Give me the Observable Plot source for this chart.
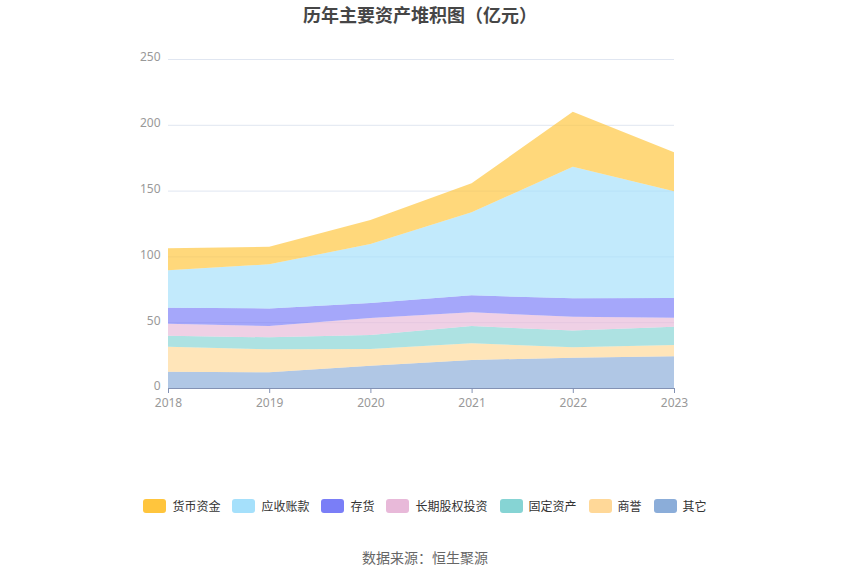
<!DOCTYPE html>
<html>
<head>
<meta charset="utf-8">
<script src="https://cdn.jsdelivr.net/npm/d3@7"></script>
<script src="https://cdn.jsdelivr.net/npm/@observablehq/plot@0.6"></script>
<style>
  body { margin: 0; background: #fff; font-family: "Noto Sans CJK SC", "Noto Sans", sans-serif; }
  #wrap { position: relative; width: 850px; height: 574px; }
  #title { position: absolute; top: 1px; left: 0; width: 840px; text-align: center; font-size: 18px; font-weight: bold; color: #464646; }
  #chart { position: absolute; top: 0; left: 0; }
  #legend { position: absolute; top: 497px; left: 0; width: 850px; display: flex; justify-content: center; font-size: 12px; color: #333; }
  .item { display: flex; align-items: center; margin: 0 6px; }
  .sw { width: 23px; height: 14px; border-radius: 3px; margin-right: 6px; }
  #caption { position: absolute; top: 547px; left: 0; width: 850px; text-align: center; font-size: 14px; color: #666; }
</style>
</head>
<body>
<div id="wrap">
  <div id="chart"></div>
  <div id="title">历年主要资产堆积图（亿元）</div>
  <div id="legend"></div>
  <div id="caption">数据来源：恒生聚源</div>
</div>
<script>
const years = [2018, 2019, 2020, 2021, 2022, 2023];
// legend order (top of stack first)
const seriesNames = ["货币资金", "应收账款", "存货", "长期股权投资", "固定资产", "商誉", "其它"];
const seriesColors = ["#ffc53d", "#a5e0fb", "#7a7ef7", "#e8b9d9", "#86d4d4", "#ffd898", "#8badd9"];
const cash        = [16.7, 13.4, 18.3, 22.0, 41.8, 29.6];
const receivables = [28.4, 33.5, 44.8, 63.1, 100.0, 81.1];
const inventory   = [12.1, 13.4, 11.4, 12.9, 14.0, 15.0];
const ltEquity    = [9.2, 8.6, 12.9, 10.4, 10.6, 6.8];
const fixedAssets = [8.3, 9.1, 10.7, 13.1, 12.7, 13.9];
const goodwill    = [19.0, 17.5, 12.6, 12.7, 7.9, 8.6];
const other       = [12.4, 11.9, 17.0, 21.3, 23.0, 24.1];
const yTicks = [0, 50, 100, 150, 200, 250];

const valuesBySeries = {
  "货币资金": cash, "应收账款": receivables, "存货": inventory,
  "长期股权投资": ltEquity, "固定资产": fixedAssets, "商誉": goodwill, "其它": other
};
// stack from bottom: 其它 first
const stackOrder = seriesNames.slice().reverse();
const data = [];
for (const s of stackOrder) {
  years.forEach((y, i) => data.push({ year: y, series: s, value: valuesBySeries[s][i] }));
}

const chart = Plot.plot({
  width: 850,
  height: 420,
  marginLeft: 168,
  marginRight: 176,
  marginTop: 59,
  marginBottom: 32,
  style: { fontFamily: "'Noto Sans', sans-serif", fontSize: "12px", color: "#999", background: "transparent" },
  x: { type: "linear", domain: [2018, 2023], label: null },
  y: { domain: [0, 250], label: null },
  color: { domain: seriesNames, range: seriesColors },
  marks: [
    Plot.gridY(yTicks, { stroke: "#e0e6f1", strokeOpacity: 1 }),
    Plot.areaY(data, { x: "year", y: "value", z: "series", fill: "series", fillOpacity: 0.68, order: stackOrder }),
    Plot.ruleY([0], { stroke: "#8392b4", strokeWidth: 1 }),
    Plot.axisX({ ticks: years, tickFormat: d => String(d), stroke: "#8392b4", fill: "#999", tickSize: 5, tickPadding: 5 }),
    Plot.axisY({ ticks: yTicks, tickSize: 0, tickPadding: 8, fill: "#999", dy: -2 })
  ]
});
document.getElementById("chart").appendChild(chart);

const legend = document.getElementById("legend");
seriesNames.forEach((n, i) => {
  const it = document.createElement("div");
  it.className = "item";
  const sw = document.createElement("div");
  sw.className = "sw";
  sw.style.background = seriesColors[i];
  const t = document.createElement("span");
  t.textContent = n;
  it.appendChild(sw); it.appendChild(t);
  legend.appendChild(it);
});
</script>
</body>
</html>
